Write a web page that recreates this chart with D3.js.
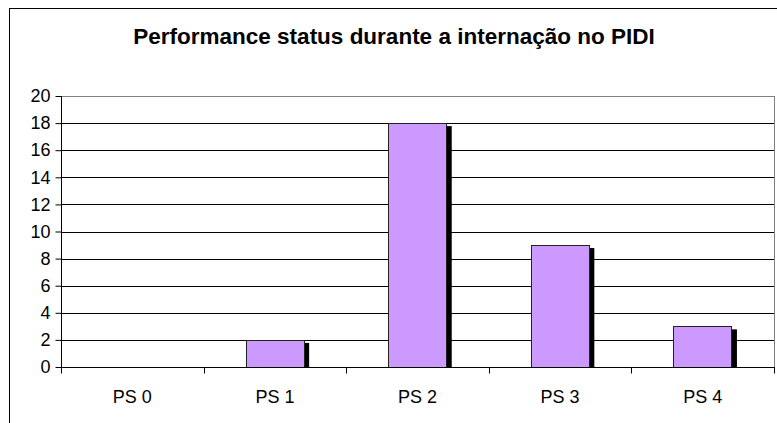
<!DOCTYPE html>
<html>
<head>
<meta charset="utf-8">
<script src="https://cdn.jsdelivr.net/npm/d3@7"></script>
<style>
  body { margin: 0; background: #fff; }
  text { font-family: Arial, "Liberation Sans", sans-serif; fill: #000; }
</style>
</head>
<body>
<svg id="chart" width="777" height="423"></svg>
<script>
// data
const categories = ["PS 0", "PS 1", "PS 2", "PS 3", "PS 4"];
const values = [0, 2, 18, 9, 3];
const yTicks = [0, 2, 4, 6, 8, 10, 12, 14, 16, 18, 20];
const title = "Performance status durante a internação no PIDI";

const svg = d3.select("#chart");
const plot = {left: 61, right: 774, top: 96, bottom: 367};

// outer frame
svg.append("rect")
   .attr("x", 9.5).attr("y", 8.5)
   .attr("width", 780).attr("height", 430)
   .attr("fill", "#fff").attr("stroke", "#000").attr("stroke-width", 1);

// title
svg.append("text")
   .attr("x", 394).attr("y", 44)
   .attr("text-anchor", "middle")
   .style("font-size", "22.5px").style("font-weight", "bold")
   .text(title);

// scales
let x = d3.scaleBand().domain(categories).range([plot.left, plot.right]).padding(0);
let y = d3.scaleLinear().domain([0, 20]).range([plot.bottom, plot.top]);

// grid lines
svg.append("g")
   .selectAll("line")
   .data(yTicks.filter(d => d > 0))
   .join("line")
   .attr("x1", plot.left).attr("x2", plot.right)
   .attr("y1", d => Math.round(y(d)) + 0.5).attr("y2", d => Math.round(y(d)) + 0.5)
   .attr("stroke", d => d === 20 ? "#808080" : "#000");

// plot right border
svg.append("line")
   .attr("x1", plot.right + 0.5).attr("x2", plot.right + 0.5)
   .attr("y1", plot.top).attr("y2", plot.bottom)
   .attr("stroke", "#808080");

// bars
const barW = x.bandwidth() * 0.41;
const barData = values.map((v, i) => ({cat: categories[i], v})).filter(d => d.v > 0);
const bars = svg.append("g");
bars.selectAll("rect.shadow")
    .data(barData)
    .join("rect")
    .attr("class", "shadow")
    .attr("x", d => x(d.cat) + (x.bandwidth() - barW) / 2 + 5)
    .attr("y", d => y(d.v) + 3)
    .attr("width", barW)
    .attr("height", d => plot.bottom - y(d.v) - 3)
    .attr("fill", "#000");
bars.selectAll("rect.bar")
    .data(barData)
    .join("rect")
    .attr("class", "bar")
    .attr("x", d => Math.round(x(d.cat) + (x.bandwidth() - barW) / 2) + 0.5)
    .attr("y", d => Math.round(y(d.v)) + 0.5)
    .attr("width", Math.round(barW))
    .attr("height", d => Math.round(plot.bottom - y(d.v)))
    .attr("fill", "#CC99FF")
    .attr("stroke", "#222")
    .attr("stroke-width", 1);

// y axis
const yAxis = svg.append("g")
   .attr("transform", `translate(${plot.left + 0.5},0)`)
   .call(d3.axisLeft(y).tickValues(yTicks).tickSize(6).tickPadding(5));
yAxis.select(".domain").attr("stroke", "#000").attr("d", `M0,${plot.top}V${plot.bottom + 6}`);
yAxis.selectAll(".tick line").attr("stroke", "#000");
yAxis.selectAll(".tick text")
     .attr("x", -11)
     .style("font-size", "18px")
     .style("font-family", "Arial, 'Liberation Sans', sans-serif");

// x axis
const xEdges = d3.scaleLinear().domain([0, categories.length]).range([plot.left, plot.right]);
const xAxis = svg.append("g")
   .attr("transform", `translate(0,${plot.bottom + 0.5})`);
xAxis.append("line")
   .attr("x1", plot.left).attr("x2", plot.right + 1)
   .attr("stroke", "#000");
xAxis.selectAll("line.tick")
   .data(d3.range(categories.length + 1))
   .join("line")
   .attr("class", "tick")
   .attr("x1", d => Math.round(xEdges(d)) + 0.5).attr("x2", d => Math.round(xEdges(d)) + 0.5)
   .attr("y1", 0).attr("y2", 6)
   .attr("stroke", "#000");
xAxis.selectAll("text")
   .data(categories)
   .join("text")
   .attr("x", d => x(d) + x.bandwidth() / 2)
   .attr("y", 35)
   .attr("text-anchor", "middle")
   .style("font-size", "18px")
   .text(d => d);
</script>
</body>
</html>
